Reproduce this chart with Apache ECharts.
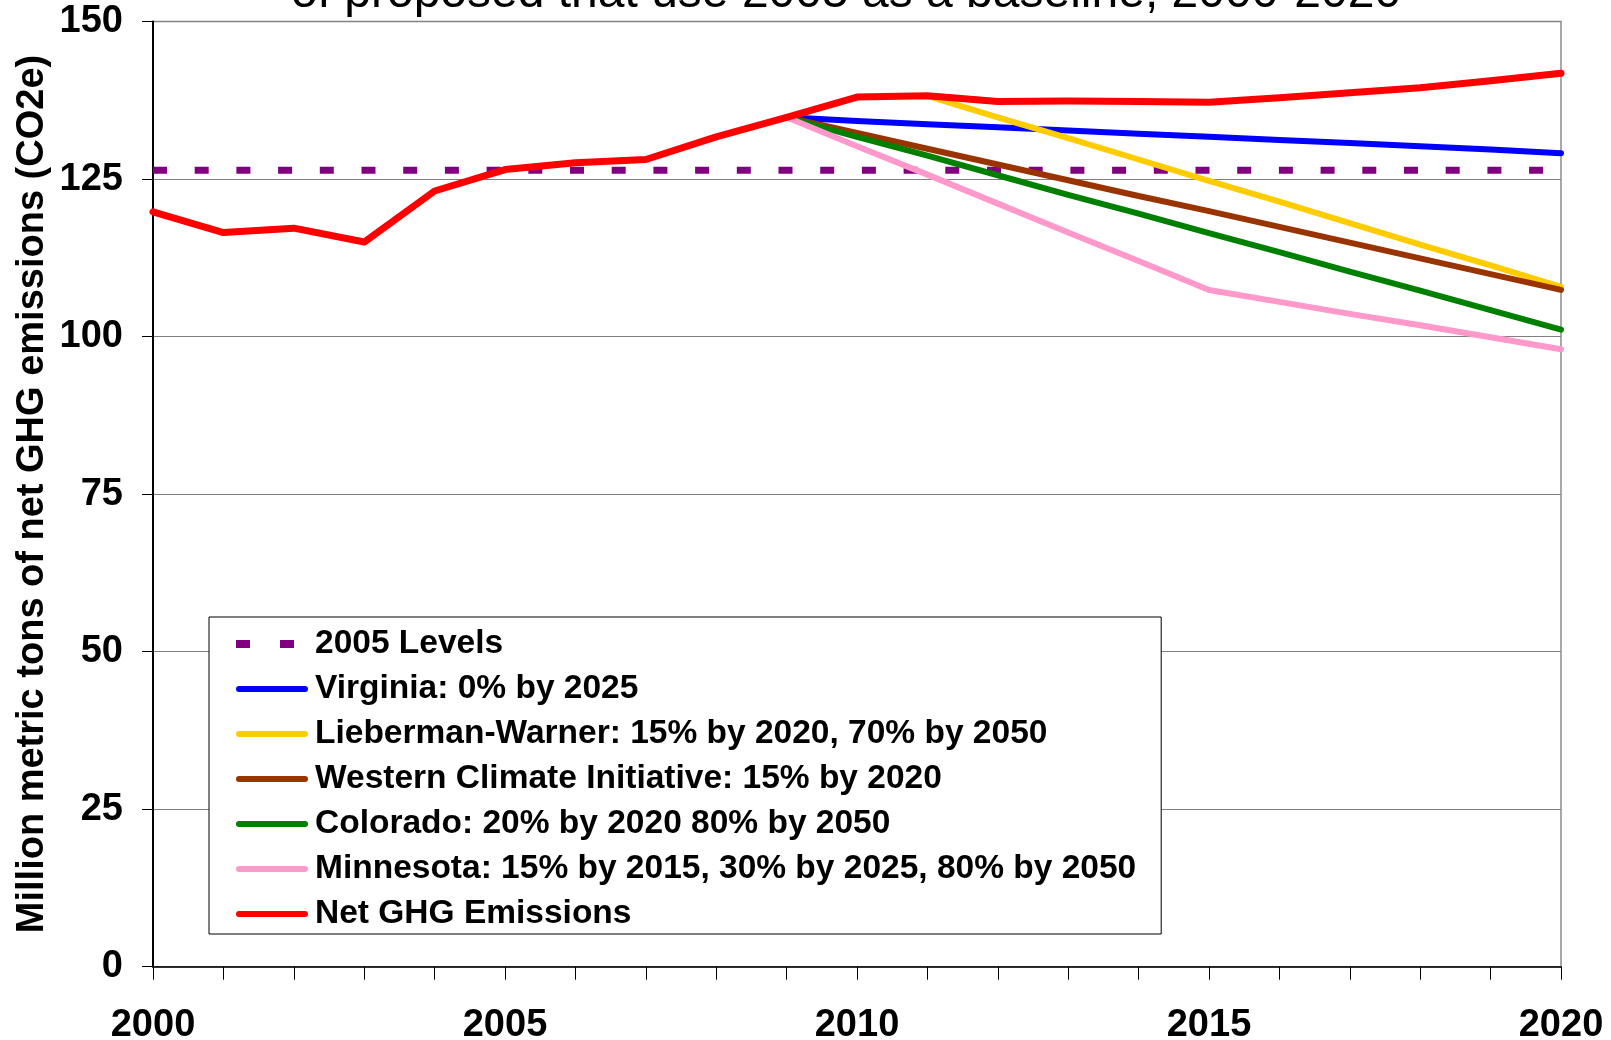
<!DOCTYPE html>
<html>
<head>
<meta charset="utf-8">
<script src="https://cdn.jsdelivr.net/npm/echarts@6/dist/echarts.min.js"></script>
<style>
html,body{margin:0;padding:0;background:#fff;}
#main{width:1611px;height:1040px;}
</style>
</head>
<body>
<div id="main"></div>
<script>
const years = ['2000','2001','2002','2003','2004','2005','2006','2007','2008','2009','2010','2011','2012','2013','2014','2015','2016','2017','2018','2019','2020'];
const level2005 = [126.4,126.4,126.4,126.4,126.4,126.4,126.4,126.4,126.4,126.4,126.4,126.4,126.4,126.4,126.4,126.4,126.4,126.4,126.4,126.4,126.4];
const virginia = [null,null,null,null,null,null,null,null,null,134.8,134.2,133.7,133.2,132.7,132.2,131.7,131.2,130.7,130.2,129.7,129.1];
const lieberman = [null,null,null,null,null,null,null,null,null,null,null,138.2,134.8,131.5,128.1,124.7,121.4,118.0,114.6,111.3,107.9];
const wci = [null,null,null,null,null,null,null,null,null,134.8,132.3,129.8,127.3,124.8,122.3,119.9,117.4,114.9,112.4,109.9,107.4];
const colorado = [null,null,null,null,null,null,null,null,null,134.8,131.7,128.7,125.6,122.5,119.5,116.4,113.4,110.3,107.3,104.2,101.1];
const minnesota = [null,null,null,null,null,null,null,null,null,134.8,130.2,125.7,121.1,116.5,112.0,107.4,105.5,103.6,101.8,99.9,98.0];
const netGHG = [119.8,116.5,117.2,115.0,123.1,126.5,127.6,128.1,131.7,134.8,138.0,138.2,137.3,137.4,137.3,137.2,137.9,138.7,139.5,140.6,141.8];
const yTicks = {min:0, max:150, interval:25};
const titleText = 'of proposed that use 2005 as a baseline, 2000-2020';
const yTitle = 'Million metric tons of net GHG emissions (CO2e)';

const FONT = '"Liberation Sans", Arial, sans-serif';
const chart = echarts.init(document.getElementById('main'), null, {renderer:'canvas'});

const SOLID_ICON = 'path://M3,0h66a3,3 0 0 1 0,6h-66a3,3 0 0 1 0,-6z';
const DASH_ICON = 'path://M0,0h14v8h-14z M44,0h14v8h-14z M71.95,3.95h0.05v0.05h-0.05z';

function line(name, data, color, width, type) {
  return {
    name: name, type: 'line', data: data, symbol: 'none', silent: true,
    connectNulls: false, animation: false,
    lineStyle: {color: color, width: width, type: type || 'solid', cap: type ? 'butt' : 'round', join: 'round'},
    itemStyle: {color: color}
  };
}

const names = ['2005 Levels','Virginia: 0% by 2025','Lieberman-Warner: 15% by 2020, 70% by 2050','Western Climate Initiative: 15% by 2020','Colorado: 20% by 2020 80% by 2050','Minnesota: 15% by 2015, 30% by 2025, 80% by 2050','Net GHG Emissions'];

chart.setOption({
  animation: false,
  backgroundColor: '#ffffff',
  textStyle: {fontFamily: FONT},
  grid: {left: 153, right: 50, top: 21.5, bottom: 73.3, containLabel: false, outerBoundsMode: 'none', show: true, borderColor: '#8c8c8c', borderWidth: 1.5, backgroundColor: 'transparent'},
  graphic: [
    {type: 'text', x: 846, y: 18, style: {text: titleText, font: '48px ' + FONT, fill: '#000', textAlign: 'center', textVerticalAlign: 'bottom'}},
    {type: 'text', x: 33, y: 494, rotation: Math.PI/2, style: {text: yTitle, font: 'bold 38px ' + FONT, fill: '#000', textAlign: 'center', textVerticalAlign: 'middle'}}
  ],
  legend: {
    orient: 'vertical', left: 209, top: 617,
    backgroundColor: '#fff', borderColor: '#000', borderWidth: 1,
    padding: [9, 25, 2, 27],
    itemWidth: 72, itemHeight: 14, itemGap: 9,
    symbolKeepAspect: true,
    textStyle: {fontFamily: FONT, fontSize: 33.5, fontWeight: 'bold', color: '#000', lineHeight: 36, padding: [0, 0, 0, 2]},
    data: names.map(function (n, i) { return {name: n, icon: i === 0 ? DASH_ICON : SOLID_ICON}; })
  },
  xAxis: {
    type: 'category', data: years, boundaryGap: false,
    axisLine: {lineStyle: {color: '#000', width: 1.5}},
    axisTick: {show: true, interval: 0, length: 13, lineStyle: {color: '#000', width: 1}},
    axisLabel: {interval: 4, margin: 40, fontFamily: FONT, fontSize: 38, fontWeight: 'bold', color: '#000', lineHeight: 38},
    splitLine: {show: false}
  },
  yAxis: {
    type: 'value', min: yTicks.min, max: yTicks.max, interval: yTicks.interval,
    axisLine: {show: true, lineStyle: {color: '#000', width: 2}},
    axisTick: {show: true, length: 11, lineStyle: {color: '#000', width: 1}},
    axisLabel: {margin: 30, fontFamily: FONT, fontSize: 38, fontWeight: 'bold', color: '#000'},
    splitLine: {show: true, lineStyle: {color: '#808080', width: 1}}
  },
  series: [
    line(names[0], level2005, '#800080', 7, [14, 27.7]),
    line(names[1], virginia, '#0000FF', 6),
    line(names[2], lieberman, '#FFCC00', 6),
    line(names[3], wci, '#993300', 6),
    line(names[4], colorado, '#008000', 6),
    line(names[5], minnesota, '#FF99CC', 6),
    line(names[6], netGHG, '#FF0000', 7)
  ]
});
</script>
</body>
</html>
